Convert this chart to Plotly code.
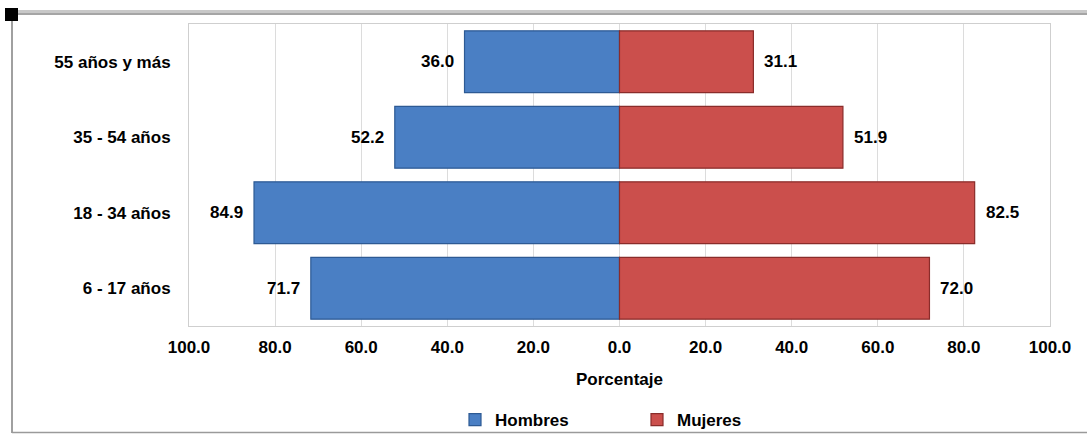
import plotly.graph_objects as go

categories = ["6 - 17 años", "18 - 34 años", "35 - 54 años", "55 años y más"]
hombres = [71.7, 84.9, 52.2, 36.0]
mujeres = [72.0, 82.5, 51.9, 31.1]
tick_vals = [-100, -80, -60, -40, -20, 0, 20, 40, 60, 80, 100]
tick_text = ["100.0", "80.0", "60.0", "40.0", "20.0", "0.0", "20.0", "40.0", "60.0", "80.0", "100.0"]

FONT = "Liberation Sans, Arial, sans-serif"
BLUE = "#4A7FC4"
RED = "#CB4F4C"

W, H = 1087, 436
ML, MR, MT, MB = 189, 37, 24, 110
PW, PH = W - ML - MR, H - MT - MB


def px(x):
    return (x - ML) / PW


def py(y):
    return (H - MB - y) / PH


fig = go.Figure()
fig.add_trace(go.Bar(
    y=categories, x=[-v for v in hombres], orientation="h", name="Hombres",
    marker=dict(color=BLUE, line=dict(color="#2D5A94", width=1.2)),
    hoverinfo="skip",
))
fig.add_trace(go.Bar(
    y=categories, x=mujeres, orientation="h", name="Mujeres",
    marker=dict(color=RED, line=dict(color="#8A2C2A", width=1.2)),
    hoverinfo="skip",
))

for c, v in zip(categories, hombres):
    fig.add_annotation(x=-v, y=c, text=f"{v:.1f}", showarrow=False,
                       xanchor="right", xshift=-9,
                       font=dict(family=FONT, size=17, color="#000000", weight="bold"))
for c, v in zip(categories, mujeres):
    fig.add_annotation(x=v, y=c, text=f"{v:.1f}", showarrow=False,
                       xanchor="left", xshift=9,
                       font=dict(family=FONT, size=17, color="#000000", weight="bold"))

# outer frame decorations
shapes = [
    dict(type="line", xref="paper", yref="paper", x0=px(12), x1=px(1090), y0=py(12.5), y1=py(12.5),
         line=dict(color="#C8C8C8", width=5)),
    dict(type="line", xref="paper", yref="paper", x0=px(12), x1=px(1090), y0=py(14), y1=py(14),
         line=dict(color="#9A9A9A", width=1.5)),
    dict(type="line", xref="paper", yref="paper", x0=px(12), x1=px(12), y0=py(14), y1=py(433),
         line=dict(color="#A0A0A0", width=2)),
    dict(type="line", xref="paper", yref="paper", x0=px(12), x1=px(1090), y0=py(432.5), y1=py(432.5),
         line=dict(color="#9A9A9A", width=1.5)),
    dict(type="rect", xref="paper", yref="paper", x0=px(5), x1=px(18), y0=py(8), y1=py(21),
         fillcolor="#000000", line=dict(width=0)),
]

fig.update_layout(
    width=W, height=H,
    margin=dict(l=ML, r=MR, t=MT, b=MB, pad=0, autoexpand=False),
    paper_bgcolor="#FFFFFF", plot_bgcolor="#FFFFFF",
    barmode="relative", bargap=0.18,
    font=dict(family=FONT, size=17, color="#000000"),
    showlegend=True,
    legend=dict(orientation="h", x=px(455), xanchor="left", y=py(420), yanchor="middle",
                entrywidth=137, entrywidthmode="pixels", itemwidth=30,
                font=dict(family=FONT, size=17, color="#000000", weight="bold"),
                bgcolor="rgba(0,0,0,0)"),
    shapes=shapes,
    xaxis=dict(range=[-100, 100], tickvals=tick_vals, ticktext=tick_text,
               showgrid=True, gridcolor="#DCDCDC", gridwidth=1, automargin=False,
               zeroline=False, showline=True, linecolor="#CFCFCF", linewidth=1, mirror=True,
               ticks="", ticklabelstandoff=6,
               tickfont=dict(family=FONT, size=17, color="#000000", weight="bold"),
               title=dict(text="Porcentaje", standoff=16,
                          font=dict(family=FONT, size=17, color="#000000", weight="bold")),
               fixedrange=True),
    yaxis=dict(categoryorder="array", categoryarray=categories, automargin=False,
               showgrid=False, showline=True, linecolor="#CFCFCF", linewidth=1, mirror=True,
               ticks="", ticklabelstandoff=14,
               tickfont=dict(family=FONT, size=17, color="#000000", weight="bold"),
               fixedrange=True),
)

fig.write_html("out.html")
